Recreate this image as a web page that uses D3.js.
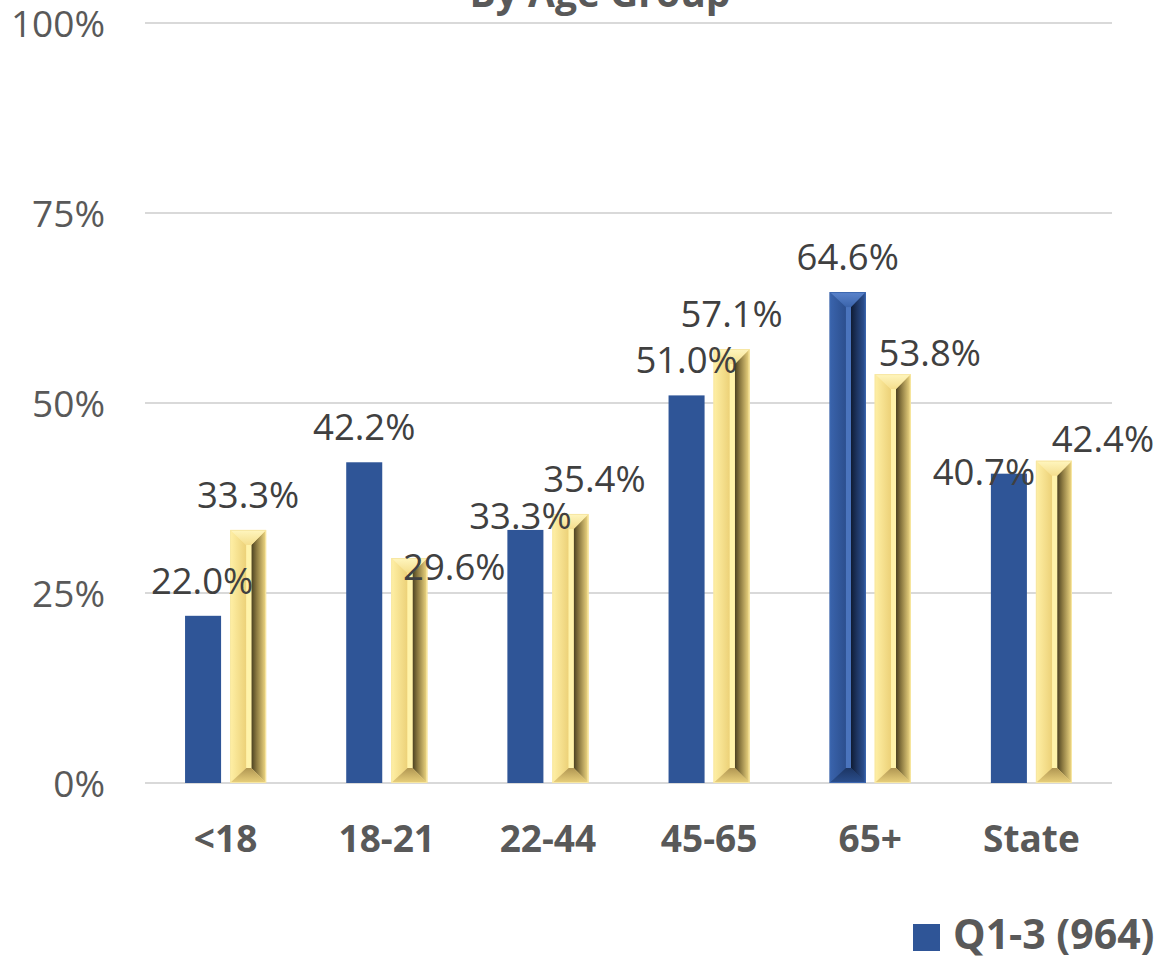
<!DOCTYPE html>
<html>
<head>
<meta charset="utf-8">
<script src="https://cdn.jsdelivr.net/npm/d3@7"></script>
<style>
  html, body { margin: 0; padding: 0; background: #ffffff; }
  svg { display: block; }
</style>
</head>
<body>
<svg id="chart" width="1163" height="960"></svg>
<script>
// ---- data ----
const categories = ["<18", "18-21", "22-44", "45-65", "65+", "State"];
const seriesNames = ["Q1-3 (964)", "Q4"];
const seriesQ13 = [22.0, 42.2, 33.3, 51.0, 64.6, 40.7];
const seriesQ4 = [33.3, 29.6, 35.4, 57.1, 53.8, 42.4];
const yTicks = [0, 25, 50, 75, 100];
const titleText = "By Age Group";

// ---- layout / style (not data) ----
const plot = { left: 145, right: 1112, top: 23, bottom: 783 };
const blue = "#2f5597", yellow = "#ffe699";
// manual label nudges [dx, dy] (as placed in the original chart)
const labelNudge = [
  [[-1, 0], [0, 0], [-5, 21], [0, 0], [0, 0], [-25, 33]],
  [[0, 0], [45, 44], [24, 0], [0, 0], [37, 14], [49, 13]]
];
const bevelFlags = [
  [false, false, false, false, true, false],
  [true, true, true, true, true, true]
];

const svg = d3.select("#chart");
const defs = svg.append("defs");

function grad(id, x2, y2, stops) {
  const g = defs.append("linearGradient").attr("id", id)
    .attr("x1", 0).attr("y1", 0).attr("x2", x2).attr("y2", y2);
  stops.forEach(([o, c]) => g.append("stop").attr("offset", o).attr("stop-color", c));
}
// yellow bevel gradients
grad("yL", 1, 0, [[0, "#fff0a6"], [1, "#ecd178"]]);
grad("yR", 1, 0, [[0, "#4a4020"], [0.35, "#8a7840"], [1, "#f3db84"]]);
grad("yT", 0, 1, [[0, "#fff6bf"], [1, "#f4de8d"]]);
grad("yB", 0, 1, [[0, "#b09652"], [1, "#ead17c"]]);
// blue bevel gradients
grad("bL", 1, 0, [[0, "#3a64ad"], [1, "#2c4f8e"]]);
grad("bR", 1, 0, [[0, "#0f1b33"], [0.4, "#1d3460"], [1, "#2e559a"]]);
grad("bT", 0, 1, [[0, "#5b84cc"], [1, "#3b64ab"]]);
grad("bB", 0, 1, [[0, "#1c3563"], [1, "#2b4f8e"]]);

const bevelStyle = [
  { L: "url(#bL)", R: "url(#bR)", T: "url(#bT)", B: "url(#bB)", C: "#4a74bd", edge: "#3d67b0" },
  { L: "url(#yL)", R: "url(#yR)", T: "url(#yT)", B: "url(#yB)", C: "#fff3aa", edge: "#f7e7a3" }
];

// scales
const x0 = d3.scaleBand().domain(categories).range([plot.left, plot.right])
  .paddingInner(0.497).paddingOuter(0.2485);
const x1 = d3.scaleBand().domain([0, 1]).range([0, x0.bandwidth()]).paddingInner(0.2);
const y = d3.scaleLinear().domain([0, 100]).range([plot.bottom, plot.top]);

// gridlines
svg.append("g").selectAll("line").data(yTicks).join("line")
  .attr("x1", plot.left).attr("x2", plot.right)
  .attr("y1", d => y(d)).attr("y2", d => y(d))
  .attr("stroke", "#d9d9d9").attr("stroke-width", 2);

// y axis labels
const yAxis = d3.axisLeft(y).tickValues(yTicks).tickFormat(d => d + "%").tickSize(0).tickPadding(0);
const yg = svg.append("g").attr("transform", `translate(${plot.left - 40},0)`).call(yAxis);
yg.select(".domain").remove();
yg.selectAll("text")
  .attr("font-family", "'Open Sans', sans-serif").attr("font-size", 37)
  .attr("fill", "#595959").attr("dy", "0.36em");

// x axis labels
const xAxis = d3.axisBottom(x0).tickSize(0).tickPadding(0);
const xg = svg.append("g").attr("transform", `translate(0,${plot.bottom})`).call(xAxis);
xg.select(".domain").remove();
xg.selectAll("text")
  .attr("font-family", "'Open Sans', sans-serif").attr("font-size", 37)
  .attr("font-weight", "bold").attr("fill", "#595959")
  .attr("dy", null).attr("y", 69);

// bars
const series = [seriesQ13, seriesQ4];
series.forEach((vals, si) => {
  const g = svg.append("g");
  vals.forEach((v, ci) => {
    const bx = x0(categories[ci]) + x1(si);
    const bw = x1.bandwidth();
    const top = y(v), bot = y(0), bh = bot - top;
    if (!bevelFlags[si][ci]) {
      g.append("rect").attr("x", bx).attr("y", top).attr("width", bw).attr("height", bh)
        .attr("fill", si === 0 ? blue : yellow);
      return;
    }
    const st = bevelStyle[si];
    const d = Math.min(15, bh / 2);
    const sL = bx + bw * 0.45, sR = bx + bw * 0.59;
    const poly = pts => "M" + pts.map(p => p.join(",")).join("L") + "Z";
    g.append("rect").attr("x", bx).attr("y", top).attr("width", bw).attr("height", bh)
      .attr("fill", si === 0 ? blue : yellow);
    g.append("path").attr("d", poly([[bx, top], [sL, top + d], [sL, bot - d], [bx, bot]])).attr("fill", st.L);
    g.append("path").attr("d", poly([[bx + bw, top], [sR, top + d], [sR, bot - d], [bx + bw, bot]])).attr("fill", st.R);
    g.append("path").attr("d", poly([[bx, top], [bx + bw, top], [sR, top + d], [sL, top + d]])).attr("fill", st.T);
    g.append("path").attr("d", poly([[bx, bot], [bx + bw, bot], [sR, bot - d], [sL, bot - d]])).attr("fill", st.B);
    g.append("rect").attr("x", sL).attr("y", top + d).attr("width", sR - sL).attr("height", Math.max(0, bh - 2 * d))
      .attr("fill", st.C);
    g.append("rect").attr("x", bx + 0.5).attr("y", top + 0.5).attr("width", bw - 1).attr("height", bh - 1)
      .attr("fill", "none").attr("stroke", st.edge).attr("stroke-width", 1);
  });
});

// value labels
series.forEach((vals, si) => {
  svg.append("g").selectAll("text").data(vals).join("text")
    .attr("x", (v, ci) => x0(categories[ci]) + x1(si) + x1.bandwidth() / 2 + labelNudge[si][ci][0])
    .attr("y", (v, ci) => y(v) - 22 + labelNudge[si][ci][1])
    .attr("text-anchor", "middle")
    .attr("font-family", "'Open Sans', sans-serif").attr("font-size", 36.5)
    .attr("fill", "#404040")
    .text(v => v.toFixed(1) + "%");
});

// title (partially cut off at the top edge, as in the original)
svg.append("text").attr("x", 600).attr("y", 7).attr("text-anchor", "middle")
  .attr("font-family", "'Open Sans', sans-serif").attr("font-size", 39).attr("font-weight", "bold")
  .attr("fill", "#595959").text(titleText);

// legend (only first entry visible in frame)
const lg = svg.append("g").attr("transform", "translate(913,924)");
lg.append("rect").attr("width", 27).attr("height", 27).attr("fill", blue);
lg.append("text").attr("x", 40).attr("y", 25)
  .attr("font-family", "'Open Sans', sans-serif").attr("font-size", 41).attr("font-weight", "bold")
  .attr("fill", "#595959").text(seriesNames[0]);
</script>
</body>
</html>
